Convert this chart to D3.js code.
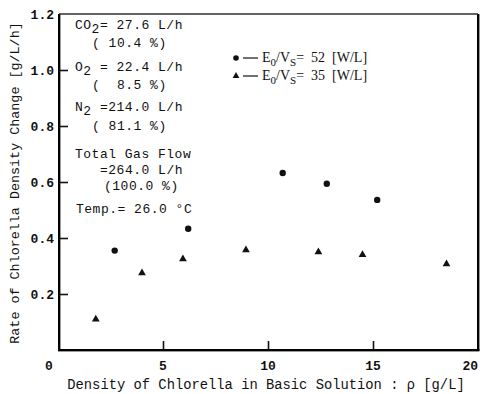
<!DOCTYPE html>
<html>
<head>
<meta charset="utf-8">
<script src="https://cdn.jsdelivr.net/npm/d3@7/dist/d3.min.js"></script>
<style>
  body { margin: 0; background: #fff; }
  svg { display: block; }
  text { fill: #111; }
</style>
</head>
<body>
<div id="chart"></div>
<script>
// chlorella growth rate vs density, two power inputs

var xTicks = [0, 5, 10, 15, 20];
var yTicks = [0.2, 0.4, 0.6, 0.8, 1.0, 1.2];

// E0/Vs = 52 W/L (circles)
var x52 = [2.7, 6.2, 10.7, 12.8, 15.2];
var y52 = [0.355, 0.433, 0.632, 0.594, 0.536];

// E0/Vs = 35 W/L (triangles)
var x35 = [1.8, 4.0, 5.95, 8.95, 12.4, 14.5, 18.5];
var y35 = [0.11, 0.275, 0.325, 0.357, 0.35, 0.34, 0.307];

var width = 486, height = 394;
var margin = {left: 58, right: 8, top: 14, bottom: 44};

var svg = d3.select("#chart").append("svg")
    .attr("width", width)
    .attr("height", height);

var x = d3.scaleLinear().domain([0, 20]).range([margin.left, width - margin.right]);
var y = d3.scaleLinear().domain([0, 1.2]).range([height - margin.bottom, margin.top]);

var mono = "'Liberation Mono', 'DejaVu Sans Mono', monospace";
var serif = "'Liberation Serif', 'DejaVu Serif', serif";

// frame drawn as filled bars (left, bottom, right heavy; top lighter)
var fx0 = x(0) + 1, fx1 = x(20), fyt = y(1.2), fyb = y(0);
var bars = [
  [fx0 - 1, fyt, 2.4, fyb - fyt + 1],
  [fx0 - 1, fyb - 1, fx1 - fx0 + 2.4, 2.4],
  [fx1 - 1, fyt, 2.4, fyb - fyt + 1]
];
svg.selectAll(".fbar").data(bars).enter().append("rect")
    .attr("x", d => d[0]).attr("y", d => d[1])
    .attr("width", d => d[2]).attr("height", d => d[3])
    .attr("fill", "#000");
svg.append("rect")
    .attr("x", fx0).attr("y", fyt - 0.7)
    .attr("width", fx1 - fx0).attr("height", 1.4)
    .attr("fill", "#222");

// axes with inward ticks
var xAxis = d3.axisBottom(x).tickValues(xTicks.slice(1, 4)).tickSize(-9).tickFormat("");
var gx = svg.append("g").attr("transform", "translate(0," + y(0) + ")").call(xAxis);
gx.select(".domain").remove();
gx.selectAll("line").attr("stroke", "#111").attr("stroke-width", 1.6);

var yAxis = d3.axisLeft(y).tickValues(yTicks.slice(0, 5)).tickSize(-9).tickFormat("");
var gy = svg.append("g").attr("transform", "translate(" + (x(0) + 1) + ",0)").call(yAxis);
gy.select(".domain").remove();
gy.selectAll("line").attr("stroke", "#111").attr("stroke-width", 1.6);

// tick labels
svg.selectAll(".xl").data(xTicks).enter().append("text")
    .attr("x", d => d == 0 ? x(d) - 9 : x(d))
    .attr("y", y(0) + 20)
    .attr("text-anchor", d => d == 20 ? "end" : "middle")
    .attr("font-family", mono).attr("font-size", 13).attr("font-weight", "bold")
    .text(d => d);

svg.selectAll(".yl").data(yTicks).enter().append("text")
    .attr("x", x(0) - 4)
    .attr("y", d => y(d) + 5)
    .attr("text-anchor", "end")
    .attr("font-family", mono).attr("font-size", 13).attr("font-weight", "bold")
    .text(d => d.toFixed(1));

// axis titles
svg.append("text")
    .attr("x", 266).attr("y", 389)
    .attr("text-anchor", "middle")
    .attr("font-family", mono).attr("font-size", 13.8)
    .text("Density of Chlorella in Basic Solution :  \u03C1 [g/L]");

svg.append("text")
    .attr("transform", "translate(19,183) rotate(-90)")
    .attr("text-anchor", "middle")
    .attr("font-family", mono).attr("font-size", 13.4)
    .text("Rate of Chlorella Density Change [g/L/h]");

// gas condition notes
var notes = [
  {t: "CO", sub: "2", rest: "= 27.6 L/h", x: 75, y: 29},
  {t: "( 10.4 %)", x: 92, y: 47},
  {t: "O", sub: "2", rest: " = 22.4 L/h", x: 75, y: 71},
  {t: "(  8.5 %)", x: 92, y: 89},
  {t: "N", sub: "2", rest: " =214.0 L/h", x: 75, y: 111},
  {t: "( 81.1 %)", x: 92, y: 130},
  {t: "Total Gas Flow", x: 75, y: 158},
  {t: "=264.0 L/h", x: 100, y: 174},
  {t: "(100.0 %)", x: 104, y: 190},
  {t: "Temp.= 26.0 \u00B0C", x: 76, y: 213}
];
notes.forEach(function(n) {
  var t = svg.append("text")
      .attr("x", n.x).attr("y", n.y)
      .attr("font-family", mono).attr("font-size", 13).attr("letter-spacing", 0.5)
      .attr("xml:space", "preserve").style("white-space", "pre");
  t.append("tspan").text(n.t);
  if (n.sub) {
    t.append("tspan").attr("dy", 4).text(n.sub);
    t.append("tspan").attr("dy", -4).text(n.rest);
  }
});

// data
svg.selectAll(".c52").data(x52).enter().append("circle")
    .attr("cx", (d, i) => x(d))
    .attr("cy", (d, i) => y(y52[i]))
    .attr("r", 3.2).attr("fill", "#111");

var tri = d3.symbol().type(d3.symbolTriangle).size(26);
svg.selectAll(".t35").data(x35).enter().append("path")
    .attr("d", tri)
    .attr("transform", (d, i) => "translate(" + x(d) + "," + y(y35[i]) + ")")
    .attr("fill", "#111");

// legend
var legend = [{label: "52", sym: "c", y: 58}, {label: "35", sym: "t", y: 76}];
legend.forEach(function(l) {
  if (l.sym == "c") {
    svg.append("circle").attr("cx", 236).attr("cy", l.y).attr("r", 2.8).attr("fill", "#111");
  } else {
    svg.append("path").attr("d", d3.symbol().type(d3.symbolTriangle).size(20))
        .attr("transform", "translate(236," + l.y + ")").attr("fill", "#111");
  }
  svg.append("line").attr("x1", 243).attr("x2", 258).attr("y1", l.y).attr("y2", l.y)
      .attr("stroke", "#111").attr("stroke-width", 1.2);
  var t = svg.append("text").attr("x", 262).attr("y", l.y + 4)
      .attr("font-family", serif).attr("font-size", 14)
      .attr("xml:space", "preserve").style("white-space", "pre");
  t.append("tspan").text("E");
  t.append("tspan").attr("dy", 4).attr("font-size", 11).text("0");
  t.append("tspan").attr("dy", -4).text("/V");
  t.append("tspan").attr("dy", 4).attr("font-size", 11).text("S");
  t.append("tspan").attr("dy", -4).text("=  " + l.label + "  [W/L]");
});
</script>
</body>
</html>
